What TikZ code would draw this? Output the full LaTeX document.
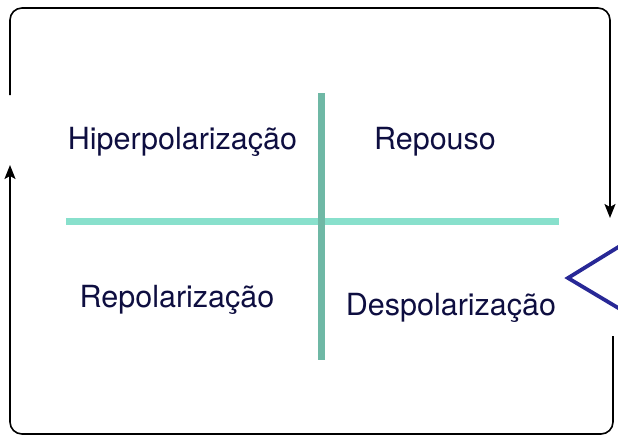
\documentclass[tikz,border=0pt]{standalone}
\usepackage{fontspec}
\setmainfont{TeX Gyre Heros}
\usetikzlibrary{arrows.meta}
\definecolor{navytext}{RGB}{14,14,64}
\definecolor{tealdark}{RGB}{111,184,165}
\definecolor{teallight}{RGB}{136,224,204}
\definecolor{chevblue}{RGB}{40,40,150}

\begin{document}
\begin{tikzpicture}[x=1pt,y=-1pt,
  phase/.style={anchor=base,text=navytext,font=\fontsize{30.5}{36}\selectfont,inner sep=0pt},
  loop/.style={line width=1.6pt,rounded corners=12pt,-{Stealth[length=14pt,width=11pt,inset=3pt]}}]
  \useasboundingbox (0,0) rectangle (618,437);
  \coordinate (hl) at (66,221);
  \coordinate (hr) at (559,221);
  \coordinate (vt) at (321.5,93);
  \coordinate (vb) at (321.5,360);
  \draw[teallight,line width=7pt] (hl) -- (hr);
  \draw[tealdark,line width=7pt] (vt) -- (vb);
  \node[phase] (hiper) at (182.5,149) {Hiperpolarização};
  \node[phase] (repouso) at (435,149) {Repouso};
  \node[phase] (repol) at (177,307) {Repolarização};
  \node[phase] (despol) at (451,315) {Despolarização};
  \draw[chevblue,line width=3.8pt,miter limit=20] (620,246) -- (568,278) -- (620,309);
  \coordinate (topstart) at (10,95);
  \coordinate (topend) at (610,218);
  \coordinate (botstart) at (613,336);
  \coordinate (botend) at (10,165);
  \draw[loop] (topstart) -- (10,8) -- (610,8) -- (topend);
  \draw[loop] (botstart) -- (613,434) -- (10,434) -- (botend);
\end{tikzpicture}
\end{document}
